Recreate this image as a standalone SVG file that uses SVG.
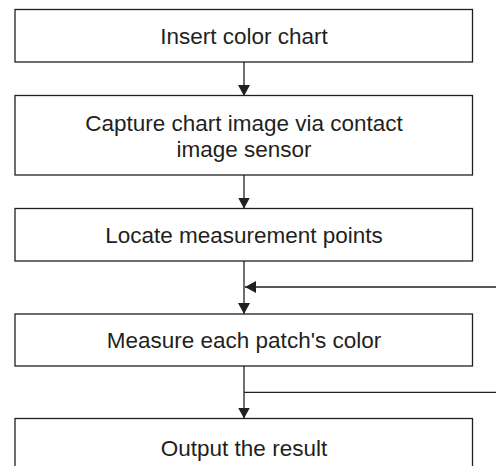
<svg xmlns="http://www.w3.org/2000/svg" width="496" height="466" viewBox="0 0 496 466">
<style>
.box{fill:#fff;stroke:#231f20;stroke-width:1.3}
.lbl{font-family:"Liberation Sans",Arial,sans-serif;font-size:22.5px;fill:#231f20;text-anchor:middle}
.ln{fill:none;stroke:#231f20;stroke-width:1.3}
</style>
<defs>
<marker id="ah" markerUnits="userSpaceOnUse" markerWidth="11" markerHeight="12" refX="11" refY="6" orient="auto" viewBox="0 0 11 12">
<path d="M0,0 L11,6 L0,12 z" fill="#231f20"/>
</marker>
</defs>
<rect width="496" height="466" fill="#fff"/>
<g id="connectors">
<line class="ln" x1="244" y1="62" x2="244" y2="96" marker-end="url(#ah)"/>
<line class="ln" x1="244" y1="175" x2="244" y2="208.5" marker-end="url(#ah)"/>
<line class="ln" x1="244" y1="261" x2="244" y2="314" marker-end="url(#ah)"/>
<line class="ln" x1="497" y1="287" x2="245" y2="287" marker-end="url(#ah)"/>
<line class="ln" x1="244" y1="366" x2="244" y2="418.5" marker-end="url(#ah)"/>
<line class="ln" x1="244" y1="392.3" x2="497" y2="392.3"/>
</g>
<g id="n1">
<rect class="box" x="15" y="9.5" width="457.5" height="52.5"/>
<text class="lbl" x="244" y="44">Insert color chart</text>
</g>
<g id="n2">
<rect class="box" x="15" y="95.5" width="457.5" height="79.5"/>
<text class="lbl" x="244" y="130.5">Capture chart image via contact</text>
<text class="lbl" x="244" y="156.5">image sensor</text>
</g>
<g id="n3">
<rect class="box" x="15" y="208.5" width="457.5" height="52.5"/>
<text class="lbl" x="244" y="243">Locate measurement points</text>
</g>
<g id="n4">
<rect class="box" x="15" y="314" width="457.5" height="52"/>
<text class="lbl" x="244" y="348.3">Measure each patch's color</text>
</g>
<g id="n5">
<rect class="box" x="15" y="418.5" width="457.5" height="60"/>
<text class="lbl" x="244" y="455.5">Output the result</text>
</g>
</svg>
